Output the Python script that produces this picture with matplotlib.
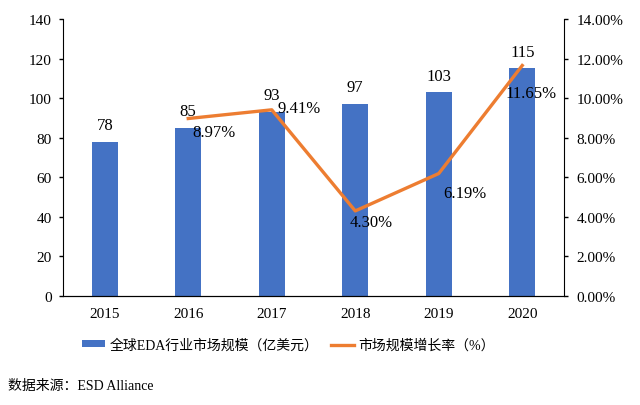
import numpy as np
import matplotlib
matplotlib.use("Agg")
import matplotlib.pyplot as plt
from matplotlib.ticker import FuncFormatter

plt.rcParams['font.family'] = ['Liberation Serif', 'Noto Sans CJK SC', 'DejaVu Sans']

years = ["2015", "2016", "2017", "2018", "2019", "2020"]
market = [78, 85, 93, 97, 103, 115]
growth_years = ["2016", "2017", "2018", "2019", "2020"]
growth = [8.97, 9.41, 4.30, 6.19, 11.65]
growth_labels = ["8.97%", "9.41%", "4.30%", "6.19%", "11.65%"]

bar_name = "全球EDA行业市场规模（亿美元）"
line_name = "市场规模增长率（%）"
source = "数据来源：ESD Alliance"

blue = "#4472C4"
orange = "#ED7D31"

fig = plt.figure(figsize=(6.4, 4.06), dpi=100)
ax = fig.add_axes([63/640, 1-297/406, (564-63)/640, (297-20)/406])

x = np.arange(len(years))
bars = ax.bar(x, market, width=0.31, color=blue, label=bar_name, zorder=2)
ax.set_xlim(-0.5, len(years) - 0.5)
ax.set_ylim(0, 140)
ax.set_yticks(range(0, 141, 20))
ax.set_xticks(x)
ax.set_xticklabels(years)
ax.tick_params(axis='x', length=0, pad=8, labelsize=11)
ax.tick_params(axis='y', length=3, width=1, pad=5, labelsize=11)
ax.spines['top'].set_visible(False)
ax.spines['right'].set_visible(False)

for xi, v in zip(x, market):
    ax.annotate(str(v), (xi, v), xytext=(0, 12), textcoords='offset points',
                ha='center', va='center', fontsize=12)

ax2 = ax.twinx()
gx = [years.index(y) for y in growth_years]
ax2.plot(gx, growth, color=orange, lw=2.4, label=line_name, zorder=3)
ax2.set_ylim(0, 14)
ax2.set_yticks(range(0, 15, 2))
ax2.yaxis.set_major_formatter(FuncFormatter(lambda v, p: "%.2f%%" % v))
ax2.tick_params(axis='y', length=3, width=1, pad=6, labelsize=11)
ax2.spines['top'].set_visible(False)
ax2.spines['left'].set_visible(False)

# label offsets in points (left edge of text, vertical centre)
offs = [(3, -10), (4, 1), (-4, -8), (3, -14), (-12, -20)]
for xi, v, lab, (dx, dy) in zip(gx, growth, growth_labels, offs):
    ax2.annotate(lab, (xi, v), xytext=(dx, dy), textcoords='offset points',
                 ha='left', va='center', fontsize=12)

h1, l1 = ax.get_legend_handles_labels()
h2, l2 = ax2.get_legend_handles_labels()
fig.legend(h1 + h2, l1 + l2, loc='center left', bbox_to_anchor=(69/640, 1-346/406),
           ncol=2, frameon=False, fontsize=10, handlelength=1.7, handleheight=0.4,
           columnspacing=0.9, handletextpad=0.3, borderpad=0.4)

fig.text(8/640, 1-387/406, source, ha='left', va='center', fontsize=10)

fig.savefig("out.png", dpi=100)
